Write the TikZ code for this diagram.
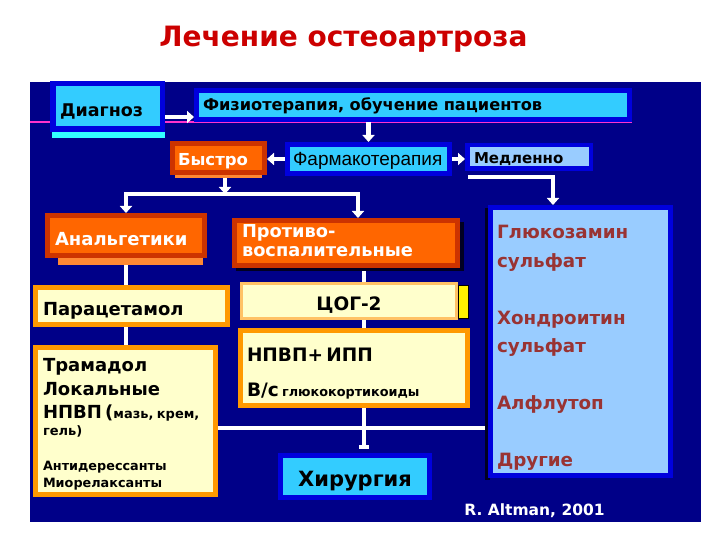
\documentclass[tikz,border=0pt]{standalone}
\usepackage{fontspec}
\setmainfont{DejaVu Sans}
\newfontfamily\arialf{Liberation Sans}
\usetikzlibrary{arrows.meta}
\setlength{\parindent}{0pt}
\pgfdeclarelayer{back}\pgfdeclarelayer{conn}
\pgfsetlayers{back,conn,main}
\definecolor{navy}{HTML}{000088}
\definecolor{bblue}{HTML}{0000DD}
\definecolor{cyanb}{HTML}{33CCFF}
\definecolor{lblue}{HTML}{99CCFF}
\definecolor{rorange}{HTML}{CC3300}
\definecolor{orange1}{HTML}{FF6600}
\definecolor{orange2}{HTML}{FF9900}
\definecolor{cream}{HTML}{FFFFCC}
\definecolor{brick}{HTML}{993333}
\definecolor{titlered}{HTML}{CC0000}
\definecolor{magline}{HTML}{FF33CC}
\definecolor{cyanstrip}{HTML}{33FFFF}
\definecolor{ostrip}{HTML}{FF8833}
\definecolor{shadowc}{HTML}{000022}
\newcommand\fsz[2]{\fontsize{#1}{#2}\selectfont}
% #1 name, #2 style, #3 x0, #4 y0, #5 x1, #6 y1, #7 border width, #8 text padding, #9 text
\newcommand\mybox[9]{%
  \pgfmathsetmacro\myW{#5-#3-#7}%
  \pgfmathsetmacro\myH{#6-#4-#7}%
  \pgfmathsetmacro\myT{#5-#3-2*#8}%
  \pgfmathsetmacro\myX{(#3+#5)/2}%
  \pgfmathsetmacro\myY{(#4+#6)/2}%
  \node[rectangle, inner sep=0pt, line width=#7pt, minimum width=\myW pt,
        minimum height=\myH pt, text width=\myT pt, #2] (#1) at (\myX,\myY) {#9};%
}
\begin{document}
\begin{tikzpicture}[x=1pt,y=-1pt,
  bluebx/.style={draw=bblue, fill=cyanb, align=left, text=black},
  medbx/.style={draw=bblue, fill=lblue, align=left, text=black},
  redbx/.style={draw=rorange, fill=orange1, align=left, text=white},
  creambx/.style={draw=orange2, fill=cream, align=left, text=black},
  wline/.style={white, line width=4.5pt},
  warrow/.style={wline, -{Triangle[width=12pt,length=7pt]}},
]
\useasboundingbox (0,0) rectangle (720,540);
\begin{pgfonlayer}{back}
\fill[white] (0,0) rectangle (720,540);
\fill[navy] (30,82) rectangle (701,522);
\draw[magline, line width=1.5pt] (30,122) -- (632,122);
\end{pgfonlayer}

\node[anchor=base, text=titlered, font=\fsz{28}{32}\bfseries] (title) at (343.5,47) {Лечение остеоартроза};

% strips and shadows
\fill[cyanstrip] (52,132) rectangle (165,138);
\fill[ostrip] (175,175) rectangle (262,178);
\fill[ostrip] (58,258) rectangle (203,265);
\fill[shadowc] (236,222) rectangle (464,271);
\fill[shadowc] (485,208) rectangle (490,480);

\mybox{diag}{bluebx, font=\fsz{17.5}{20}\bfseries, text height=20.8pt, text depth=0pt}{50}{81}{165}{132}{5.5}{10}{Диагноз}
\mybox{fiz}{bluebx, font=\fsz{16.2}{19}\bfseries, text height=11.8pt, text depth=0pt}{194}{88}{632}{122}{5}{9}{Физиотерапия, обучение пациентов}
\mybox{farm}{bluebx, font=\arialf\fsz{19}{22}, text height=13.6pt, text depth=0pt}{285}{142}{452}{176}{5}{8}{Фармакотерапия}
\mybox{bystro}{redbx, font=\fsz{16.5}{19}\bfseries, text height=16pt, text depth=0pt}{170}{141}{267}{175}{5}{8}{Быстро}
\mybox{medl}{medbx, font=\fsz{15}{18}\bfseries, text height=13.9pt, text depth=0pt}{465}{143}{593}{171}{4.5}{9}{Медленно}
\mybox{analg}{redbx, font=\fsz{18}{20}\bfseries, text height=19.1pt, text depth=0pt}{45}{213}{207}{258}{5}{10}{Анальгетики}
\mybox{protiv}{redbx, font=\fsz{17.8}{19}\bfseries, text height=0pt, text depth=11.2pt}{232}{218}{460}{268}{5}{10}{Противо-\\воспалительные}
\mybox{parac}{creambx, font=\fsz{18}{21}\bfseries, text height=19.1pt, text depth=0pt}{33}{285}{230}{327}{5}{10}{Парацетамол}
\mybox{cog}{creambx, align=center, draw=orange2!60, font=\fsz{18.5}{21}\bfseries, text height=19.5pt, text depth=0pt}{240}{282}{458}{320}{3}{10}{ЦОГ-2}
\draw[black, fill=yellow, line width=1pt] (458,285) rectangle (468,318);
\mybox{tram}{creambx, font=\bfseries, text height=0pt, text depth=98.8pt}{33}{345}{218}{497}{5}{10}{%
{\fsz{18}{23.5}Трамадол\par Локальные\par \mbox{НПВП ({\fsz{13}{15}мазь, крем,}}\par}%
{\fsz{13}{17}гель)\par}%
{\fsz{12.8}{35}Антидерессанты\par}%
{\fsz{12.8}{17}Миорелаксанты\par}}
\mybox{npvp}{creambx, font=\bfseries, text height=0pt, text depth=12.6pt}{238}{328}{470}{408}{5}{9}{%
{\fsz{18.5}{22}НПВП+ ИПП\par}%
{\fsz{18.5}{35}\mbox{В/с {\fsz{12.8}{14}глюкокортикоиды}}\par}}
\mybox{hir}{bluebx, align=center, font=\fsz{21}{24}\bfseries, text height=20.3pt, text depth=0pt}{278}{453}{432}{500}{5}{10}{Хирургия}
\mybox{gluk}{medbx, text=brick, font=\fsz{18.3}{28.5}\bfseries, text height=0pt, text depth=205pt}{488}{205}{673}{478}{5}{9}{%
Глюкозамин\par сульфат\par\mbox{}\par Хондроитин\par сульфат\par\mbox{}\par Алфлутоп\par\mbox{}\par Другие}

\node[anchor=base, text=white, font=\fsz{15.5}{18}\bfseries] (altman) at (534.5,515.5) {R. Altman, 2001};

\begin{pgfonlayer}{conn}
\draw[warrow] ([yshift=-10.5pt]diag.east) -- ([yshift=-10.5pt]diag.east -| fiz.west);
\draw[warrow] (fiz.south -| farm.north) -- (farm.north);
\draw[warrow] (farm.west) -- (farm.west -| bystro.east);
\draw[warrow] (farm.east) -- (farm.east -| medl.west);
\draw[warrow] ([shift={(3,6)}]medl.south west) -| ([xshift=-27.5pt]gluk.north);
\coordinate (bj) at (225,194);
\draw[warrow] ([xshift=6.5pt]bystro.south) -- (bj);
\draw[warrow] (bj) -| (analg.north);
\draw[warrow] (bj) -| ([xshift=12pt]protiv.north);
\draw[wline] (analg.south) -- (analg.south |- tram.north);
\draw[wline, -{Bar[width=10pt]}] ([xshift=18pt]protiv.south) -- ([xshift=9pt,yshift=4pt]hir.north);
\coordinate (hl) at (0,428);
\draw[wline] (tram.east |- hl) -- (gluk.west |- hl);
\end{pgfonlayer}
\end{tikzpicture}
\end{document}
